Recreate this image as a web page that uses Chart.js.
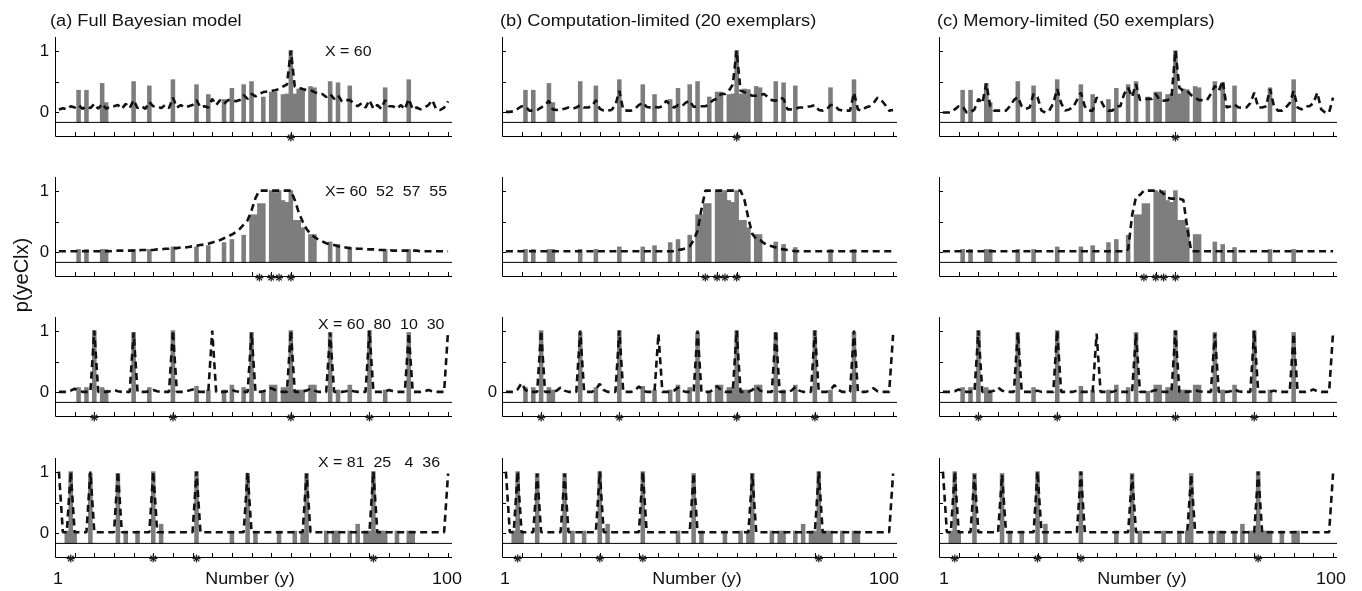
<!DOCTYPE html>
<html>
<head>
<meta charset="utf-8">
<script src="https://cdn.jsdelivr.net/npm/chart.js@4.4.1/dist/chart.umd.min.js"></script>
<style>
  body { margin: 0; background: #fff; width: 1362px; height: 591px; position: relative; overflow: hidden;
         font-family: "Liberation Sans", Arial, sans-serif; color: #111; }
  canvas { position: absolute; }
  .lbl { position: absolute; white-space: pre; line-height: 1; }
</style>
</head>
<body>
<script>
// numbers 1..100 on the x axis
const numbers = [1,2,3,4,5,6,7,8,9,10,11,12,13,14,15,16,17,18,19,20,21,22,23,24,25,26,27,28,29,30,
  31,32,33,34,35,36,37,38,39,40,41,42,43,44,45,46,47,48,49,50,51,52,53,54,55,56,57,58,59,60,
  61,62,63,64,65,66,67,68,69,70,71,72,73,74,75,76,77,78,79,80,81,82,83,84,85,86,87,88,89,90,
  91,92,93,94,95,96,97,98,99,100];
const xTickVals = [0,5,10,15,20,25,30,35,40,45,50,55,60,65,70,75,80,85,90,95,100];
const yTickVals = [0, 0.5, 1];
const yLabelVals = [1, 0];

// human generalization (bars), same in all three columns
const probes1 = [6,8,12,13,20,24,30,36,39,43,45,48,50,53,55,56,58,59,60,61,62,63,65,66,70,72,75,84,90];
const human1 = [0.36,0.36,0.47,0.16,0.50,0.43,0.53,0.45,0.29,0.21,0.39,0.45,0.50,0.25,0.33,0.33,0.29,0.30,1.00,0.30,0.38,0.37,0.42,0.40,0.50,0.48,0.43,0.40,0.53];
const probes2 = [6,8,12,13,20,24,30,36,39,43,45,48,50,51,52,53,55,56,57,58,59,60,61,62,63,65,66,70,72,75,84,90];
const human2 = [0.05,0.05,0.05,0.05,0.05,0.05,0.09,0.09,0.11,0.16,0.21,0.28,0.61,0.61,0.79,0.79,1.00,0.97,1.00,0.84,0.81,1.00,0.52,0.52,0.40,0.29,0.29,0.17,0.13,0.08,0.05,0.05];
const probes3 = [6,8,10,12,13,20,24,30,36,39,43,45,48,50,53,55,56,58,59,60,61,62,63,65,66,70,72,75,80,84,90];
const human3 = [0.08,0.08,1.00,0.08,0.04,0.97,0.08,1.00,0.10,0.04,0.04,0.12,0.08,0.97,0.02,0.12,0.12,0.08,0.08,1.00,0.04,0.04,0.04,0.12,0.12,0.97,0.04,0.12,1.00,0.04,0.97];
const probes4 = [3,4,5,9,16,18,21,25,27,36,45,49,51,57,61,63,64,69,71,72,75,77,79,80,81,82,83,84,87,90,91];
const human4 = [0.04,1.00,0.04,0.97,0.97,0.04,0.04,1.00,0.15,1.00,0.04,0.97,0.04,0.04,0.04,0.04,0.97,0.04,0.04,0.04,0.04,0.15,0.04,0.04,1.00,0.04,0.04,0.04,0.04,0.04,0.04];

// observed examples X (asterisks)
const query1 = [60];
const query2 = [52, 55, 57, 60];
const query3 = [10, 30, 60, 80];
const query4 = [4, 25, 36, 81];

// model predictions (dashed lines), y = 1..100
const full1 = [0.05,0.07,0.05,0.10,0.08,0.12,0.06,0.10,0.07,0.14, 0.06,0.14,0.06,0.10,0.10,0.12,0.06,0.14,0.07,0.20,
  0.07,0.10,0.06,0.17,0.10,0.10,0.07,0.12,0.07,0.24, 0.08,0.12,0.08,0.10,0.12,0.20,0.08,0.10,0.08,0.22,
  0.12,0.20,0.14,0.20,0.20,0.18,0.20,0.28,0.22,0.30, 0.26,0.30,0.33,0.34,0.35,0.36,0.38,0.42,0.45,1.00,
  0.42,0.40,0.38,0.36,0.36,0.33,0.30,0.30,0.25,0.30, 0.22,0.28,0.18,0.20,0.20,0.15,0.10,0.15,0.08,0.20,
  0.06,0.12,0.06,0.20,0.10,0.10,0.06,0.12,0.05,0.22, 0.05,0.08,0.05,0.08,0.12,0.20,0.05,0.04,0.08,0.18];
const comp1 = [0.01,0.01,0.02,0.06,0.10,0.10,0.03,0.03,0.04,0.08, 0.12,0.19,0.05,0.04,0.05,0.06,0.08,0.06,0.08,0.12,
  0.08,0.08,0.10,0.20,0.06,0.03,0.03,0.04,0.12,0.35, 0.04,0.03,0.03,0.06,0.12,0.16,0.09,0.08,0.09,0.08,
  0.10,0.19,0.12,0.08,0.12,0.10,0.16,0.19,0.09,0.10, 0.10,0.10,0.14,0.20,0.22,0.30,0.30,0.35,0.45,1.00,
  0.35,0.33,0.30,0.27,0.27,0.28,0.30,0.25,0.20,0.19, 0.24,0.22,0.05,0.05,0.06,0.08,0.08,0.09,0.10,0.12,
  0.04,0.03,0.05,0.12,0.12,0.05,0.03,0.03,0.03,0.32, 0.05,0.03,0.08,0.10,0.15,0.24,0.20,0.12,0.03,0.04];
const mem1 = [0,0,0,0.05,0.10,0.10,0,0,0.05,0.22, 0.15,0.47,0.10,0.03,0.03,0.03,0.03,0.10,0.20,0.25,
  0.10,0.06,0.08,0.30,0.25,0.03,0,0.03,0.15,0.38, 0.15,0.03,0.05,0.08,0.20,0.32,0.10,0.03,0.03,0.24,
  0.20,0.08,0.03,0.03,0.10,0.10,0.30,0.40,0.25,0.46, 0.20,0.22,0.22,0.22,0.30,0.20,0.19,0.20,0.24,1.00,
  0.40,0.35,0.35,0.28,0.24,0.20,0.20,0.20,0.30,0.43, 0.35,0.51,0.08,0.10,0.13,0.08,0.08,0.08,0.15,0.32,
  0.08,0.08,0.10,0.38,0.10,0.03,0.03,0.08,0.15,0.35, 0.08,0.05,0.10,0.10,0.15,0.32,0.05,0,0,0.24];

const full2 = [0.02,0.02,0.02,0.02,0.02,0.02,0.02,0.02,0.02,0.02, 0.02,0.02,0.02,0.02,0.03,0.03,0.03,0.03,0.03,0.03,
  0.03,0.04,0.04,0.04,0.04,0.05,0.05,0.06,0.06,0.07, 0.07,0.08,0.08,0.09,0.10,0.11,0.12,0.13,0.14,0.16,
  0.18,0.20,0.23,0.26,0.29,0.33,0.38,0.45,0.52,0.68, 0.88,1,1,1,1,1,1,1,1,1,
  0.85,0.65,0.50,0.38,0.30,0.25,0.21,0.18,0.15,0.13, 0.12,0.10,0.09,0.08,0.07,0.07,0.06,0.06,0.05,0.05,
  0.05,0.04,0.04,0.04,0.04,0.03,0.03,0.03,0.03,0.03, 0.03,0.03,0.02,0.02,0.02,0.02,0.02,0.02,0.02,0.02];
const comp2 = [0.02,0.02,0.02,0.02,0.02,0.02,0.02,0.02,0.02,0.02, 0.02,0.02,0.02,0.02,0.02,0.02,0.02,0.02,0.02,0.02,
  0.02,0.02,0.02,0.02,0.02,0.02,0.02,0.02,0.02,0.02, 0.02,0.02,0.02,0.02,0.02,0.02,0.02,0.02,0.02,0.02,
  0.02,0.02,0.02,0.02,0.04,0.05,0.07,0.10,0.20,0.35, 0.70,1,1,1,1,1,1,1,1,1,
  1,0.85,0.55,0.30,0.22,0.20,0.15,0.12,0.10,0.08, 0.06,0.05,0.04,0.03,0.02,0.02,0.02,0.02,0.02,0.02,
  0.02,0.02,0.02,0.02,0.02,0.02,0.02,0.02,0.02,0.02, 0.02,0.02,0.02,0.02,0.02,0.02,0.02,0.02,0.02,0.02];
const mem2 = [0.02,0.02,0.02,0.02,0.02,0.02,0.02,0.02,0.02,0.02, 0.02,0.02,0.02,0.02,0.02,0.02,0.02,0.02,0.02,0.02,
  0.02,0.02,0.02,0.02,0.02,0.02,0.02,0.02,0.02,0.02, 0.02,0.02,0.02,0.02,0.02,0.02,0.02,0.02,0.02,0.02,
  0.02,0.02,0.02,0.02,0.02,0.02,0.02,0.05,0.60,0.90, 0.93,1,1,1,1,1,0.95,0.88,0.87,0.87,
  0.87,0.85,0.40,0.02,0.02,0.02,0.02,0.02,0.02,0.02, 0.02,0.02,0.02,0.02,0.02,0.02,0.02,0.02,0.02,0.02,
  0.02,0.02,0.02,0.02,0.02,0.02,0.02,0.02,0.02,0.02, 0.02,0.02,0.02,0.02,0.02,0.02,0.02,0.02,0.02,0.02];

const full3 = [0.01,0.01,0.01,0.03,0.06,0.03,0.01,0.01,0.01,1.00, 0.01,0.01,0.01,0.02,0.04,0.02,0.01,0.01,0.01,0.97,
  0.01,0.01,0.01,0.02,0.04,0.02,0.01,0.01,0.01,1.00, 0.01,0.01,0.01,0.03,0.05,0.02,0.01,0.01,0.01,1.00,
  0.01,0.01,0.01,0.02,0.04,0.02,0.01,0.01,0.01,0.97, 0.01,0.01,0.02,0.04,0.07,0.04,0.02,0.01,0.01,1.00,
  0.01,0.01,0.02,0.03,0.06,0.03,0.01,0.01,0.01,0.97, 0.01,0.01,0.01,0.02,0.04,0.02,0.01,0.01,0.01,1.00,
  0.01,0.01,0.01,0.02,0.04,0.02,0.01,0.01,0.01,0.96, 0.01,0.01,0.01,0.02,0.04,0.02,0.01,0.01,0.01,1.00];
const comp3 = [0.01,0.01,0.01,0.05,0.15,0.04,0.01,0.01,0.01,1.00, 0.01,0.01,0.01,0.03,0.08,0.03,0.01,0.01,0.01,1.00,
  0.01,0.01,0.01,0.05,0.14,0.04,0.01,0.01,0.01,1.00, 0.01,0.01,0.01,0.03,0.10,0.03,0.01,0.01,0.01,0.95,
  0.01,0.01,0.01,0.03,0.08,0.03,0.01,0.01,0.01,1.00, 0.01,0.01,0.01,0.04,0.10,0.04,0.01,0.01,0.01,1.00,
  0.01,0.01,0.01,0.04,0.10,0.03,0.01,0.01,0.01,1.00, 0.01,0.01,0.01,0.03,0.09,0.03,0.01,0.01,0.01,1.00,
  0.01,0.01,0.01,0.04,0.12,0.04,0.01,0.01,0.01,1.00, 0.01,0.01,0.01,0.03,0.07,0.02,0.01,0.01,0.01,0.93];
const mem3 = [0.01,0.01,0.01,0.02,0.05,0.02,0.01,0.01,0.01,1.00, 0.01,0.01,0.01,0.03,0.08,0.03,0.01,0.01,0.01,0.97,
  0.01,0.01,0.01,0.01,0.03,0.01,0.01,0.01,0.01,1.00, 0.01,0.01,0.01,0.01,0.03,0.01,0.01,0.01,0.01,0.95,
  0.01,0.01,0.01,0.01,0.03,0.01,0.01,0.01,0.01,0.95, 0.01,0.01,0.01,0.02,0.04,0.02,0.01,0.01,0.01,1.00,
  0.01,0.01,0.01,0.02,0.04,0.02,0.01,0.01,0.01,0.95, 0.01,0.01,0.01,0.02,0.05,0.02,0.01,0.01,0.01,1.00,
  0.01,0.01,0.01,0.01,0.03,0.01,0.01,0.01,0.01,0.95, 0.01,0.01,0.01,0.02,0.05,0.02,0.01,0.01,0.01,0.97];

const full4 = [1.00,0.02,0.02,1.00,0.02,0.02,0.02,0.02,1.00,0.02, 0.02,0.02,0.02,0.02,0.02,1.00,0.02,0.02,0.02,0.02,
  0.02,0.02,0.02,0.02,1.00,0.02,0.02,0.02,0.02,0.02, 0.02,0.02,0.02,0.02,0.02,1.00,0.02,0.02,0.02,0.02,
  0.02,0.02,0.02,0.02,0.02,0.02,0.02,0.02,0.99,0.02, 0.02,0.02,0.02,0.02,0.02,0.02,0.02,0.02,0.02,0.02,
  0.02,0.02,0.02,0.97,0.02,0.02,0.02,0.02,0.02,0.02, 0.02,0.02,0.02,0.02,0.02,0.02,0.02,0.02,0.02,0.02,
  1.00,0.02,0.02,0.02,0.02,0.02,0.02,0.02,0.02,0.02, 0.02,0.02,0.02,0.02,0.02,0.02,0.02,0.02,0.02,0.97];
const comp4 = [1.00,0.02,0.02,1.00,0.02,0.02,0.02,0.02,0.97,0.02, 0.02,0.02,0.02,0.02,0.02,0.97,0.02,0.02,0.02,0.02,
  0.02,0.02,0.02,0.02,1.00,0.02,0.02,0.02,0.02,0.02, 0.02,0.02,0.02,0.02,0.02,1.00,0.02,0.02,0.02,0.02,
  0.02,0.02,0.02,0.02,0.02,0.02,0.02,0.02,0.97,0.02, 0.02,0.02,0.02,0.02,0.02,0.02,0.02,0.02,0.02,0.02,
  0.02,0.02,0.02,0.97,0.02,0.02,0.02,0.02,0.02,0.02, 0.02,0.02,0.02,0.02,0.02,0.02,0.02,0.02,0.02,0.02,
  1.00,0.02,0.02,0.02,0.02,0.02,0.02,0.02,0.02,0.02, 0.02,0.02,0.02,0.02,0.02,0.02,0.02,0.02,0.02,0.97];
const mem4 = [1.00,0.02,0.02,1.00,0.02,0.02,0.02,0.02,0.95,0.02, 0.02,0.02,0.02,0.02,0.02,0.95,0.02,0.02,0.02,0.02,
  0.02,0.02,0.02,0.02,1.00,0.02,0.02,0.02,0.02,0.02, 0.02,0.02,0.02,0.02,0.02,1.00,0.02,0.02,0.02,0.02,
  0.02,0.02,0.02,0.02,0.02,0.02,0.02,0.02,0.95,0.02, 0.02,0.02,0.02,0.02,0.02,0.02,0.02,0.02,0.02,0.02,
  0.02,0.02,0.02,0.95,0.02,0.02,0.02,0.02,0.02,0.02, 0.02,0.02,0.02,0.02,0.02,0.02,0.02,0.02,0.02,0.02,
  1.00,0.02,0.02,0.02,0.02,0.02,0.02,0.02,0.02,0.02, 0.02,0.02,0.02,0.02,0.02,0.02,0.02,0.02,0.02,0.97];

const columnTitles = ["(a) Full Bayesian model", "(b) Computation-limited (20 exemplars)", "(c) Memory-limited (50 exemplars)"];
const queryTexts = ["X = 60", "X= 60  52  57  55", "X = 60  80  10  30", "X = 81  25   4  36"];

const rows = [
  { probes: probes1, human: human1, query: query1, lines: [full1, comp1, mem1] },
  { probes: probes2, human: human2, query: query2, lines: [full2, comp2, mem2] },
  { probes: probes3, human: human3, query: query3, lines: [full3, comp3, mem3] },
  { probes: probes4, human: human4, query: query4, lines: [full4, comp4, mem4] },
];

// layout
const colLeft = [55, 502, 939];
const colWidth = [397, 395, 398];
const rowTop = [37, 177, 317, 458];
const areaH = 99;
const padL = 45, padR = 12, padT = 10, padB = 14;
const yMin = -0.38, yMax = 1.22;
const barBase = -0.16;
const starLevel = -0.405;

function addText(txt, x, y, size, anchor, stretch) {
  const d = document.createElement("div");
  d.className = "lbl";
  d.textContent = txt;
  d.style.left = x + "px";
  d.style.top = y + "px";
  d.style.fontSize = size + "px";
  const tx = anchor === "center" ? "-50%" : anchor === "right" ? "-100%" : "0";
  d.style.transformOrigin = anchor === "center" ? "center" : anchor === "right" ? "right center" : "left center";
  d.style.transform = `translate(${tx}, -50%) scaleX(${stretch || 1})`;
  document.body.appendChild(d);
  return d;
}

// axis lines and inward tick marks
const axesPlugin = {
  id: "axes",
  beforeDatasetsDraw(chart) {
    const { ctx, chartArea: a, scales: { x, y } } = chart;
    ctx.save();
    ctx.strokeStyle = "#000";
    ctx.lineWidth = 1;
    ctx.beginPath();
    ctx.moveTo(a.left + 0.5, a.top);
    ctx.lineTo(a.left + 0.5, a.bottom + 0.5);
    ctx.lineTo(a.right, a.bottom + 0.5);
    xTickVals.forEach((v) => {
      const px = Math.round(x.getPixelForValue(v)) + 0.5;
      ctx.moveTo(px, a.bottom);
      ctx.lineTo(px, a.bottom - 4);
    });
    yTickVals.forEach((v) => {
      const py = Math.round(y.getPixelForValue(v)) + 0.5;
      ctx.moveTo(a.left, py);
      ctx.lineTo(a.left + 4, py);
    });
    ctx.stroke();
    ctx.restore();
  },
};

rows.forEach((row, r) => {
  row.lines.forEach((line, c) => {
    const cv = document.createElement("canvas");
    const W = padL + colWidth[c] + padR;
    const H = padT + areaH + padB;
    const left = colLeft[c] - padL;
    const top = rowTop[r] - padT;
    cv.width = W; cv.height = H;
    cv.style.left = left + "px";
    cv.style.top = top + "px";
    document.body.appendChild(cv);

    const chart = new Chart(cv.getContext("2d"), {
      type: "bar",
      data: {
        datasets: [
          {
            type: "line",
            data: numbers.map((n, i) => ({ x: n, y: line[i] })),
            borderColor: "#111",
            borderWidth: 2.6,
            borderDash: [7, 4.5],
            borderJoinStyle: "bevel",
            pointRadius: 0,
            tension: 0,
            order: 0,
          },
          {
            type: "line",
            data: row.query.map((q) => ({ x: q, y: starLevel })),
            showLine: false,
            pointStyle: "star",
            pointRadius: 4,
            borderColor: "#222",
            borderWidth: 1.2,
            clip: false,
            order: 1,
          },
          {
            type: "line",
            data: [{ x: 0, y: barBase }, { x: 101, y: barBase }],
            borderColor: "#000",
            borderWidth: 1,
            pointRadius: 0,
            order: 2,
          },
          {
            type: "bar",
            data: row.probes.map((p, i) => ({ x: p, y: [barBase, row.human[i]] })),
            backgroundColor: "#7d7d7d",
            barThickness: 3.9,
            order: 3,
          },
        ],
      },
      options: {
        responsive: false,
        animation: false,
        devicePixelRatio: 1,
        events: [],
        layout: { padding: { left: padL, right: padR, top: padT, bottom: padB }, autoPadding: false },
        plugins: { legend: { display: false }, tooltip: { enabled: false } },
        scales: {
          x: { type: "linear", min: 0, max: 101, offset: false, display: false },
          y: { type: "linear", min: yMin, max: yMax, display: false },
        },
      },
      plugins: [axesPlugin],
    });

    // y tick labels: first column, plus the stray "0" in (b) row 3
    const yScale = chart.scales.y;
    if (c === 0) {
      yLabelVals.forEach((v) => {
        addText(String(v), colLeft[c] - 6.5, top + yScale.getPixelForValue(v), 16, "right", 1.05);
      });
    } else if (c === 1 && r === 2) {
      addText("0", colLeft[c] - 5, top + yScale.getPixelForValue(0), 16, "right", 1.05);
    }
  });
});

// titles and annotations
const titleLeft = [50, 500, 937];
columnTitles.forEach((t, i) => addText(t, titleLeft[i], 20.5, 16, "left", 1.14));

const queryLeft = [325, 325, 318, 318];
const queryY = [50.5, 190.5, 324, 462];
queryTexts.forEach((t, i) => addText(t, queryLeft[i], queryY[i], 14, "left", 1.14));

const oneX = [57.5, 504.5, 944];
const nameX = [250, 697, 1142];
const hundredX = [447, 884, 1331];
for (let c = 0; c < 3; c++) {
  addText("1", oneX[c], 579, 16, "center", 1.12);
  addText("Number (y)", nameX[c], 579, 16, "center", 1.12);
  addText("100", hundredX[c], 579, 16, "center", 1.12);
}

const yl = addText("p(yeClx)", 20.5, 275, 20, "center", 1);
yl.style.transform = "translate(-50%, -50%) rotate(-90deg)";
</script>
</body>
</html>
